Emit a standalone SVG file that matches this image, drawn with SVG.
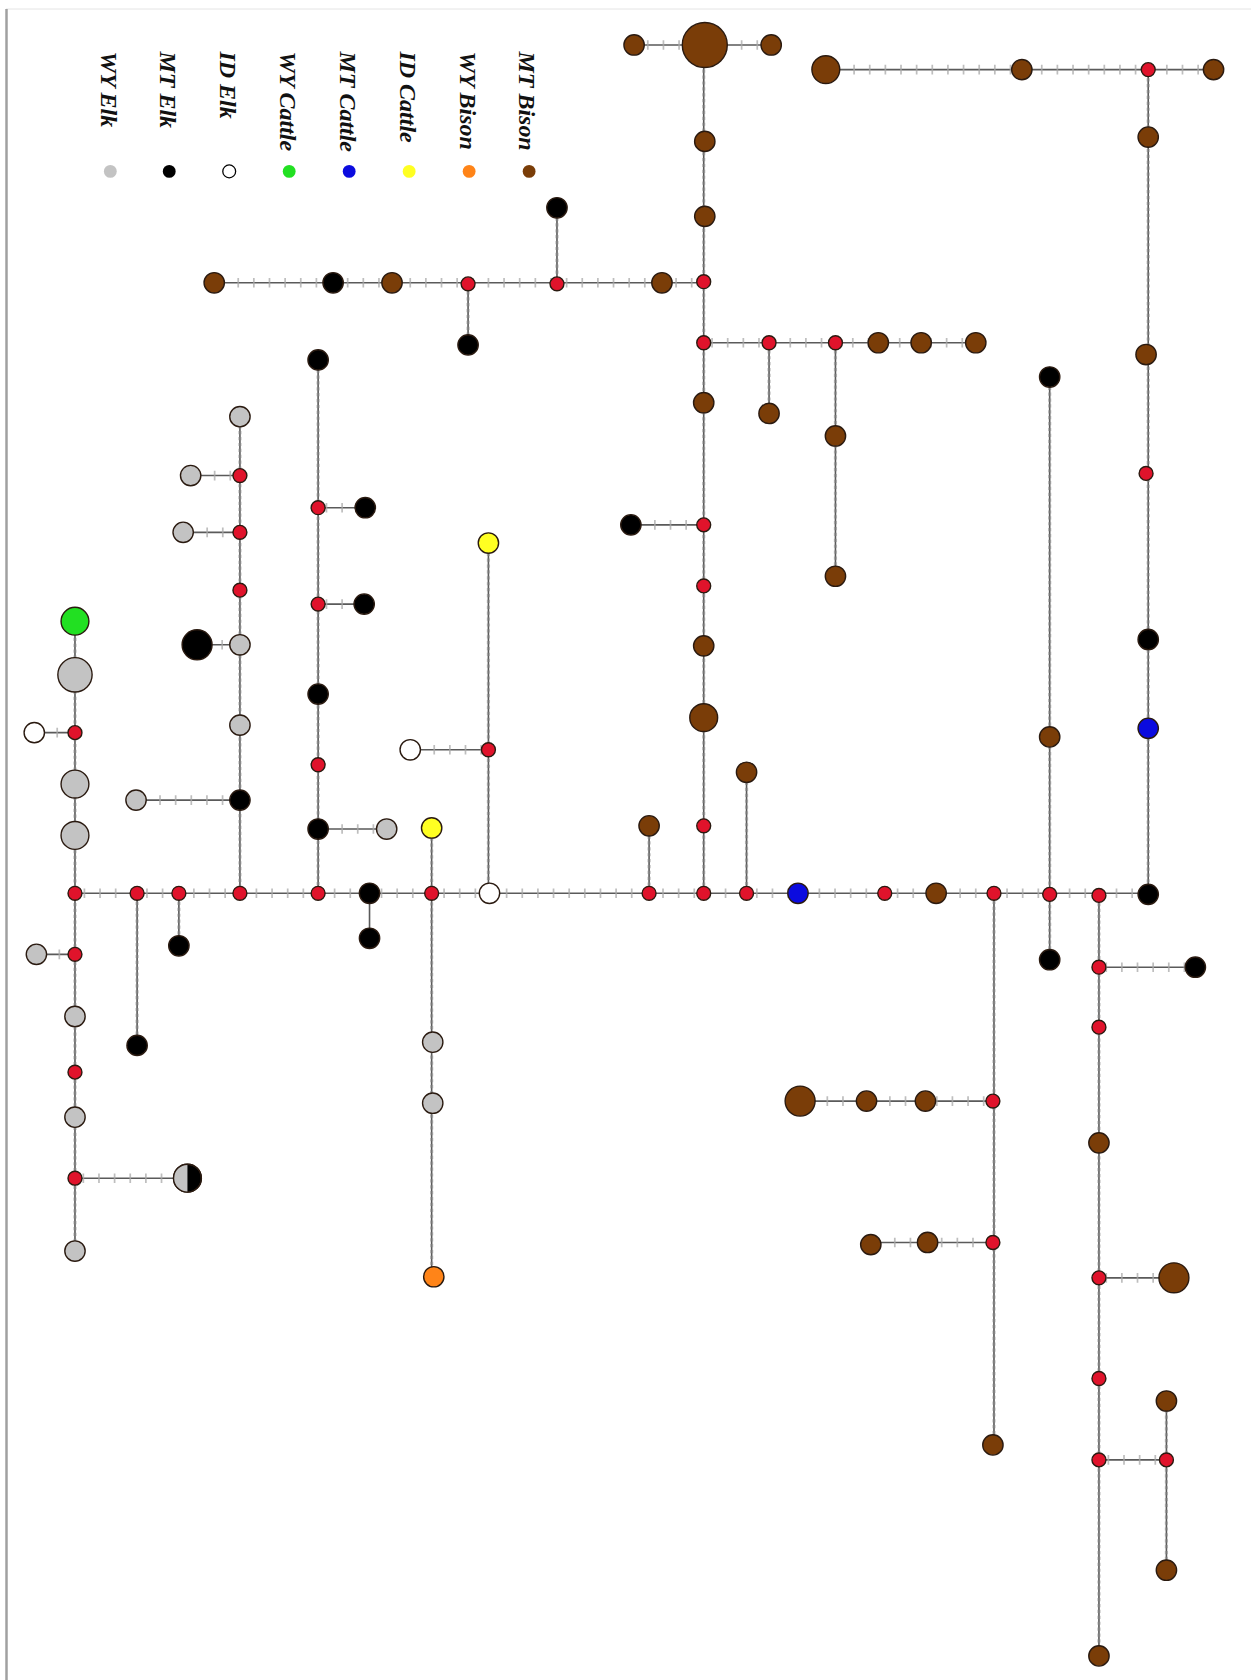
<svg xmlns="http://www.w3.org/2000/svg" width="1251" height="1680" viewBox="0 0 1251 1680">
<style>
.e{stroke:#5a5a5a;stroke-width:1.5;fill:none}
.th{stroke:#a8a8a8;stroke-width:9;stroke-dasharray:1.6 13;fill:none;opacity:.75}
.tv{stroke:#8a8a8a;stroke-width:3;stroke-dasharray:3 2.5;fill:none;opacity:.55}
circle{stroke:#2a1a10;stroke-width:1.3}
.r{fill:#e0132b}
.br{fill:#7a3d08}
.bk{fill:#000}
.gy{fill:#c3c3c3}
.wh{fill:#fff}
.gn{fill:#22e022}
.bl{fill:#0b0bdf}
.yl{fill:#ffff22}
.or{fill:#ff8418}
.lg{font-family:"Liberation Serif","Times New Roman",serif;font-style:italic;font-weight:bold;font-size:22.4px;fill:#111}
.ld{stroke:none}
</style>
<rect x="0" y="0" width="1251" height="1680" fill="#fff"/>
<line x1="6" y1="9" x2="1251" y2="9" stroke="#e4e4e4" stroke-width="1"/>
<line x1="6.5" y1="9" x2="6.5" y2="1680" stroke="#a0a0a0" stroke-width="2.5"/>
<g transform="scale(1.0711)">
<g id="legend">
<text class="lg" transform="translate(94,48) rotate(90)">WY Elk</text>
<text class="lg" transform="translate(149,48) rotate(90)">MT Elk</text>
<text class="lg" transform="translate(205,48) rotate(90)">ID Elk</text>
<text class="lg" transform="translate(261,48) rotate(90)">WY Cattle</text>
<text class="lg" transform="translate(317,48) rotate(90)">MT Cattle</text>
<text class="lg" transform="translate(373,48) rotate(90)">ID Cattle</text>
<text class="lg" transform="translate(429,48) rotate(90)">WY Bison</text>
<text class="lg" transform="translate(485,48) rotate(90)">MT Bison</text>
<circle class="gy ld" cx="103" cy="160" r="6"/>
<circle class="bk ld" cx="158" cy="160" r="6"/>
<circle class="wh" cx="214" cy="160" r="6" style="stroke:#000;stroke-width:1.2"/>
<circle class="gn ld" cx="270" cy="160" r="6"/>
<circle class="bl ld" cx="326" cy="160" r="6"/>
<circle class="yl ld" cx="382" cy="160" r="6"/>
<circle class="or ld" cx="438" cy="160" r="6"/>
<circle class="br ld" cx="494" cy="160" r="6"/>
</g>
<g id="connectors">
<path class="e" d="M70 834H1072 M592 42H720 M771 65H1133 M200 264H657 M657 320H911 M589 490H657 M383 700H456 M297 474H341 M297 564H340 M297 774H361 M178 444H224 M171 497H224 M184 602H224 M127 747H224 M32 684H70 M34 891H70 M70 1100H175 M747 1028H927 M813 1160H927 M1026 903H1116 M1026 1193H1096 M1026 1363H1089"/>
<path class="e" d="M70 580V1168 M128 834V976 M167 834V883 M224 389V834 M297 336V834 M345 834V876 M403 773V1192 M456 507V834 M606 771V834 M657 42V834 M520 194V265 M437 265V322 M718 320V386 M780 320V538 M697 721V834 M1072 65V836 M980 352V896 M928 834V1349 M1026 836V1546 M1089 1308V1466"/>
<path class="th" d="M78 834H1066 M604 42H712 M782 65H1126 M207 264H650 M664 320H905 M596 490H650 M390 700H450 M304 474H334 M304 564H333 M304 774H354 M185 444H218 M178 497H218 M192 602H218 M134 747H217 M38 684H64 M40 891H64 M77 1100H166 M757 1028H920 M820 1160H920 M1032 903H1108 M1032 1193H1086 M1034 1363H1082"/>
<path class="tv" d="M70 590V1160 M128 842V968 M167 842V876 M224 397V827 M297 345V827 M403 782V1184 M456 516V827 M606 780V827 M657 65V827 M520 203V258 M437 272V314 M718 327V378 M780 327V530 M697 730V827 M1072 73V828 M980 361V888 M928 841V1341 M1026 843V1538 M1089 1316V1458"/>
</g>
<g id="n_top_big"><circle class="br" cx="658" cy="42" r="21"/></g>
<g id="n_top_l"><circle class="br" cx="592" cy="42" r="9.5"/></g>
<g id="n_top_r"><circle class="br" cx="720" cy="42" r="9.5"/></g>
<g id="n_tr1"><circle class="br" cx="771" cy="65" r="13"/></g>
<g id="n_tr2"><circle class="br" cx="954" cy="65" r="9.5"/></g>
<g id="n_tr3"><circle class="r" cx="1072" cy="65" r="6.5"/></g>
<g id="n_tr4"><circle class="br" cx="1133" cy="65" r="9.5"/></g>
<g id="n_c1"><circle class="br" cx="658" cy="132" r="9.5"/></g>
<g id="n_c2"><circle class="br" cx="658" cy="202" r="9.5"/></g>
<g id="n_c3"><circle class="r" cx="657" cy="263" r="6.5"/></g>
<g id="n_c4"><circle class="r" cx="657" cy="320" r="6.5"/></g>
<g id="n_c5"><circle class="br" cx="657" cy="376" r="9.5"/></g>
<g id="n_c6"><circle class="r" cx="657" cy="490" r="6.5"/></g>
<g id="n_c6b"><circle class="bk" cx="589" cy="490" r="9.5"/></g>
<g id="n_c7"><circle class="r" cx="657" cy="547" r="6.5"/></g>
<g id="n_c8"><circle class="br" cx="657" cy="603" r="9.5"/></g>
<g id="n_c9"><circle class="br" cx="657" cy="670" r="13"/></g>
<g id="n_c10"><circle class="r" cx="657" cy="771" r="6.5"/></g>
<g id="n_h1"><circle class="br" cx="618" cy="264" r="9.5"/></g>
<g id="n_h2"><circle class="r" cx="520" cy="265" r="6.5"/></g>
<g id="n_h2b"><circle class="bk" cx="520" cy="194" r="9.5"/></g>
<g id="n_h3"><circle class="r" cx="437" cy="265" r="6.5"/></g>
<g id="n_h3b"><circle class="bk" cx="437" cy="322" r="9.5"/></g>
<g id="n_h4"><circle class="br" cx="366" cy="264" r="9.5"/></g>
<g id="n_h5"><circle class="bk" cx="311" cy="264" r="9.5"/></g>
<g id="n_h6"><circle class="br" cx="200" cy="264" r="9.5"/></g>
<g id="n_k1"><circle class="r" cx="718" cy="320" r="6.5"/></g>
<g id="n_k1b"><circle class="br" cx="718" cy="386" r="9.5"/></g>
<g id="n_k2"><circle class="r" cx="780" cy="320" r="6.5"/></g>
<g id="n_k2b"><circle class="br" cx="780" cy="407" r="9.5"/></g>
<g id="n_k2c"><circle class="br" cx="780" cy="538" r="9.5"/></g>
<g id="n_k3"><circle class="br" cx="820" cy="320" r="9.5"/></g>
<g id="n_k4"><circle class="br" cx="860" cy="320" r="9.5"/></g>
<g id="n_k5"><circle class="br" cx="911" cy="320" r="9.5"/></g>
<g id="n_v1"><circle class="br" cx="1072" cy="128" r="9.5"/></g>
<g id="n_v2"><circle class="br" cx="1070" cy="331" r="9.5"/></g>
<g id="n_v3"><circle class="r" cx="1070" cy="442" r="6.5"/></g>
<g id="n_v4"><circle class="bk" cx="1072" cy="597" r="9.5"/></g>
<g id="n_v5"><circle class="bl" cx="1072" cy="680" r="9.5"/></g>
<g id="n_v6"><circle class="bk" cx="1072" cy="835" r="9.5"/></g>
<g id="n_w1"><circle class="bk" cx="980" cy="352" r="9.5"/></g>
<g id="n_w2"><circle class="br" cx="980" cy="688" r="9.5"/></g>
<g id="n_w3"><circle class="r" cx="980" cy="835" r="6.5"/></g>
<g id="n_w4"><circle class="bk" cx="980" cy="896" r="9.5"/></g>
<g id="n_b1"><circle class="r" cx="70" cy="834" r="6.5"/></g>
<g id="n_b2"><circle class="r" cx="128" cy="834" r="6.5"/></g>
<g id="n_b3"><circle class="r" cx="167" cy="834" r="6.5"/></g>
<g id="n_b4"><circle class="r" cx="224" cy="834" r="6.5"/></g>
<g id="n_b5"><circle class="r" cx="297" cy="834" r="6.5"/></g>
<g id="n_b6"><circle class="bk" cx="345" cy="834" r="9.5"/></g>
<g id="n_b7"><circle class="r" cx="403" cy="834" r="6.5"/></g>
<g id="n_b8"><circle class="wh" cx="457" cy="834" r="9.5"/></g>
<g id="n_b9"><circle class="r" cx="606" cy="834" r="6.5"/></g>
<g id="n_b10"><circle class="r" cx="657" cy="834" r="6.5"/></g>
<g id="n_b11"><circle class="r" cx="697" cy="834" r="6.5"/></g>
<g id="n_b12"><circle class="bl" cx="745" cy="834" r="9.5"/></g>
<g id="n_b13"><circle class="r" cx="826" cy="834" r="6.5"/></g>
<g id="n_b14"><circle class="br" cx="874" cy="834" r="9.5"/></g>
<g id="n_b15"><circle class="r" cx="928" cy="834" r="6.5"/></g>
<g id="n_b16"><circle class="r" cx="1026" cy="836" r="6.5"/></g>
<g id="n_l1"><circle class="gn" cx="70" cy="580" r="13"/></g>
<g id="n_l2"><circle class="gy" cx="70" cy="630" r="16"/></g>
<g id="n_l3"><circle class="r" cx="70" cy="684" r="6.5"/></g>
<g id="n_l3b"><circle class="wh" cx="32" cy="684" r="9.5"/></g>
<g id="n_l4"><circle class="gy" cx="70" cy="732" r="13"/></g>
<g id="n_l5"><circle class="gy" cx="70" cy="780" r="13"/></g>
<g id="n_l6"><circle class="r" cx="70" cy="891" r="6.5"/></g>
<g id="n_l6b"><circle class="gy" cx="34" cy="891" r="9.5"/></g>
<g id="n_l7"><circle class="gy" cx="70" cy="949" r="9.5"/></g>
<g id="n_l8"><circle class="r" cx="70" cy="1001" r="6.5"/></g>
<g id="n_l9"><circle class="gy" cx="70" cy="1043" r="9.5"/></g>
<g id="n_l10"><circle class="r" cx="70" cy="1100" r="6.5"/></g>
<g id="n_l10b"><circle class="bk" cx="175" cy="1100" r="13"/><path d="M175 1087A13 13 0 0 0 175 1113Z" fill="#c3c3c3"/><circle cx="175" cy="1100" r="13" fill="none"/></g>
<g id="n_l11"><circle class="gy" cx="70" cy="1168" r="9.5"/></g>
<g id="n_m1"><circle class="bk" cx="128" cy="976" r="9.5"/></g>
<g id="n_m2"><circle class="bk" cx="167" cy="883" r="9.5"/></g>
<g id="n_p1"><circle class="gy" cx="224" cy="389" r="9.5"/></g>
<g id="n_p2"><circle class="r" cx="224" cy="444" r="6.5"/></g>
<g id="n_p2b"><circle class="gy" cx="178" cy="444" r="9.5"/></g>
<g id="n_p3"><circle class="r" cx="224" cy="497" r="6.5"/></g>
<g id="n_p3b"><circle class="gy" cx="171" cy="497" r="9.5"/></g>
<g id="n_p4"><circle class="r" cx="224" cy="551" r="6.5"/></g>
<g id="n_p5"><circle class="gy" cx="224" cy="602" r="9.5"/></g>
<g id="n_p5b"><circle class="bk" cx="184" cy="602" r="14"/></g>
<g id="n_p6"><circle class="gy" cx="224" cy="677" r="9.5"/></g>
<g id="n_p7"><circle class="bk" cx="224" cy="747" r="9.5"/></g>
<g id="n_p7b"><circle class="gy" cx="127" cy="747" r="9.5"/></g>
<g id="n_q1"><circle class="bk" cx="297" cy="336" r="9.5"/></g>
<g id="n_q2"><circle class="r" cx="297" cy="474" r="6.5"/></g>
<g id="n_q2b"><circle class="bk" cx="341" cy="474" r="9.5"/></g>
<g id="n_q3"><circle class="r" cx="297" cy="564" r="6.5"/></g>
<g id="n_q3b"><circle class="bk" cx="340" cy="564" r="9.5"/></g>
<g id="n_q4"><circle class="bk" cx="297" cy="648" r="9.5"/></g>
<g id="n_q5"><circle class="r" cx="297" cy="714" r="6.5"/></g>
<g id="n_q6"><circle class="bk" cx="297" cy="774" r="9.5"/></g>
<g id="n_q6b"><circle class="gy" cx="361" cy="774" r="9.5"/></g>
<g id="n_s1"><circle class="bk" cx="345" cy="876" r="9.5"/></g>
<g id="n_y1"><circle class="yl" cx="403" cy="773" r="9.5"/></g>
<g id="n_y2"><circle class="gy" cx="404" cy="973" r="9.5"/></g>
<g id="n_y3"><circle class="gy" cx="404" cy="1030" r="9.5"/></g>
<g id="n_y4"><circle class="or" cx="405" cy="1192" r="9.5"/></g>
<g id="n_z1"><circle class="yl" cx="456" cy="507" r="9.5"/></g>
<g id="n_z2"><circle class="r" cx="456" cy="700" r="6.5"/></g>
<g id="n_z2b"><circle class="wh" cx="383" cy="700" r="9.5"/></g>
<g id="n_u1"><circle class="br" cx="606" cy="771" r="9.5"/></g>
<g id="n_u2"><circle class="br" cx="697" cy="721" r="9.5"/></g>
<g id="n_d1"><circle class="r" cx="927" cy="1028" r="6.5"/></g>
<g id="n_d1a"><circle class="br" cx="864" cy="1028" r="9.5"/></g>
<g id="n_d1b"><circle class="br" cx="809" cy="1028" r="9.5"/></g>
<g id="n_d1c"><circle class="br" cx="747" cy="1028" r="14"/></g>
<g id="n_d2"><circle class="r" cx="927" cy="1160" r="6.5"/></g>
<g id="n_d2a"><circle class="br" cx="866" cy="1160" r="9.5"/></g>
<g id="n_d2b"><circle class="br" cx="813" cy="1162" r="9.5"/></g>
<g id="n_d3"><circle class="br" cx="927" cy="1349" r="9.5"/></g>
<g id="n_f1"><circle class="r" cx="1026" cy="903" r="6.5"/></g>
<g id="n_f1b"><circle class="bk" cx="1116" cy="903" r="9.5"/></g>
<g id="n_f2"><circle class="r" cx="1026" cy="959" r="6.5"/></g>
<g id="n_f3"><circle class="br" cx="1026" cy="1067" r="9.5"/></g>
<g id="n_f4"><circle class="r" cx="1026" cy="1193" r="6.5"/></g>
<g id="n_f4b"><circle class="br" cx="1096" cy="1193" r="14"/></g>
<g id="n_f5"><circle class="r" cx="1026" cy="1287" r="6.5"/></g>
<g id="n_f6"><circle class="r" cx="1026" cy="1363" r="6.5"/></g>
<g id="n_f6b"><circle class="r" cx="1089" cy="1363" r="6.5"/></g>
<g id="n_f6c"><circle class="br" cx="1089" cy="1308" r="9.5"/></g>
<g id="n_f6d"><circle class="br" cx="1089" cy="1466" r="9.5"/></g>
<g id="n_f7"><circle class="br" cx="1026" cy="1546" r="9.5"/></g>
</g>
</svg>
